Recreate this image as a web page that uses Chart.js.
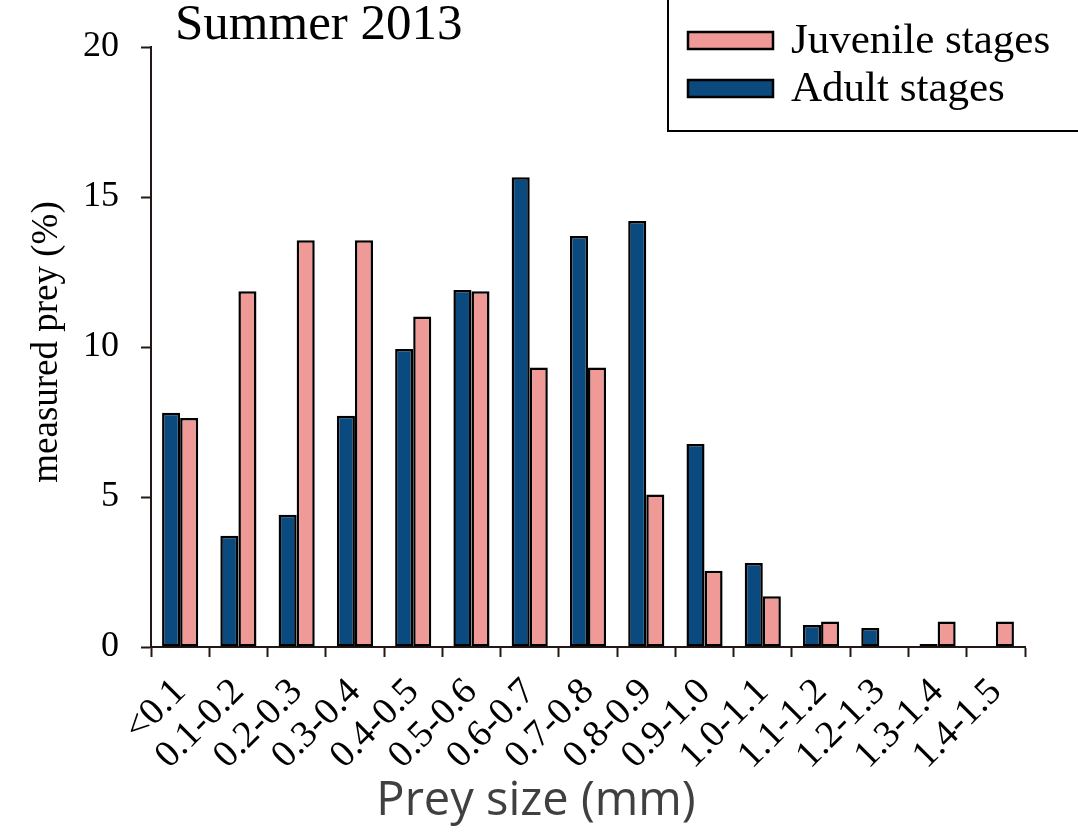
<!DOCTYPE html>
<html>
<head>
<meta charset="utf-8">
<script src="https://cdn.jsdelivr.net/npm/chart.js@4.4.1/dist/chart.umd.min.js"></script>
<style>
  html, body { margin: 0; padding: 0; background: #ffffff; }
  #wrap { width: 1078px; height: 835px; }
</style>
</head>
<body>
<div id="wrap"><canvas id="c" width="1078" height="835"></canvas></div>
<script>
// Prey size classes (mm)
const sizeClasses = ['<0.1', '0.1-0.2', '0.2-0.3', '0.3-0.4', '0.4-0.5', '0.5-0.6', '0.6-0.7',
  '0.7-0.8', '0.8-0.9', '0.9-1.0', '1.0-1.1', '1.1-1.2', '1.2-1.3', '1.3-1.4', '1.4-1.5'];

// Share of measured prey (%) per size class
const adultStages = [7.81, 3.71, 4.41, 7.71, 9.93, 11.90, 15.66, 13.70, 14.20, 6.77, 2.80, 0.73, 0.63, 0.10, 0];
const juvenileStages = [7.63, 11.86, 13.56, 13.56, 11.02, 11.86, 9.32, 9.32, 5.08, 2.54, 1.69, 0.85, 0, 0.85, 0.85];

// Y axis range and step
const yMin = 0, yMax = 20, yStep = 5;

const titleText = 'Summer 2013';
const yTitleText = 'measured prey (%)';
const xTitleText = 'Prey size (mm)';

const SERIF = '"Liberation Serif", "Times New Roman", serif';
const AXIS_COLOR = '#231815';

// Empty classes get no outline
const barBorder = (c) => (c.raw === 0 ? 0 : 2.5);

// Title, axis titles and the boxed legend drawn on top of the chart
const annotations = {
  id: 'annotations',
  afterDraw(chart) {
    const ctx = chart.ctx;
    ctx.save();

    // Title
    ctx.fillStyle = '#000';
    ctx.font = '51px ' + SERIF;
    ctx.textAlign = 'left';
    ctx.textBaseline = 'alphabetic';
    ctx.fillText(titleText, 175, 39);

    // Y axis title
    ctx.save();
    ctx.translate(47, 342);
    ctx.rotate(-Math.PI / 2);
    ctx.font = '37px ' + SERIF;
    ctx.textAlign = 'center';
    ctx.textBaseline = 'middle';
    ctx.fillText(yTitleText, 0, 0);
    ctx.restore();

    // X axis title
    ctx.font = '47px "Open Sans", sans-serif';
    ctx.fillStyle = '#404040';
    ctx.textAlign = 'center';
    ctx.textBaseline = 'alphabetic';
    ctx.fillText(xTitleText, 536, 815);

    // Legend box (juvenile listed first)
    ctx.lineWidth = 2;
    ctx.strokeStyle = '#000';
    ctx.strokeRect(668, -5, 420, 136);
    const order = [1, 0];
    order.forEach((di, i) => {
      const ds = chart.data.datasets[di];
      const y = 32 + i * 48;
      ctx.fillStyle = ds.backgroundColor;
      ctx.fillRect(688, y, 85, 17);
      ctx.lineWidth = 2.5;
      ctx.strokeStyle = '#000';
      ctx.strokeRect(688, y, 85, 17);
      ctx.fillStyle = '#000';
      ctx.font = '43px ' + SERIF;
      ctx.textAlign = 'left';
      ctx.textBaseline = 'alphabetic';
      ctx.fillText(ds.label, 791, y + 21);
    });
    ctx.restore();
  }
};

new Chart(document.getElementById('c'), {
  type: 'bar',
  data: {
    labels: sizeClasses,
    datasets: [
      {
        label: 'Adult stages',
        data: adultStages,
        backgroundColor: '#0a4a7e',
        borderColor: '#000',
        borderWidth: barBorder,
        borderSkipped: false
      },
      {
        label: 'Juvenile stages',
        data: juvenileStages,
        backgroundColor: '#ef9a97',
        borderColor: '#000',
        borderWidth: barBorder,
        borderSkipped: false
      }
    ]
  },
  options: {
    responsive: false,
    animation: false,
    devicePixelRatio: 1,
    layout: { padding: { top: 47, right: 53, left: 0, bottom: 0 } },
    datasets: { bar: { categoryPercentage: 0.62, barPercentage: 1.0 } },
    plugins: {
      legend: { display: false },
      title: { display: false },
      tooltip: { enabled: false }
    },
    scales: {
      x: {
        grid: {
          display: true,
          drawOnChartArea: false,
          drawTicks: true,
          tickLength: 10,
          tickWidth: 2,
          color: AXIS_COLOR,
          offset: true
        },
        border: { display: true, color: AXIS_COLOR, width: 2 },
        ticks: {
          color: '#000',
          font: { family: SERIF, size: 38 },
          minRotation: 45,
          maxRotation: 45,
          autoSkip: false,
          padding: 13
        },
        afterFit(scale) { scale.height = 188; }
      },
      y: {
        min: yMin,
        max: yMax,
        grid: {
          display: true,
          drawOnChartArea: false,
          drawTicks: true,
          tickLength: 10,
          tickWidth: 2,
          color: AXIS_COLOR
        },
        border: { display: true, color: AXIS_COLOR, width: 2 },
        ticks: {
          stepSize: yStep,
          color: '#000',
          font: { family: SERIF, size: 36 },
          padding: 22
        },
        afterFit(scale) { scale.width = 151; }
      }
    }
  },
  plugins: [annotations]
});
</script>
</body>
</html>
